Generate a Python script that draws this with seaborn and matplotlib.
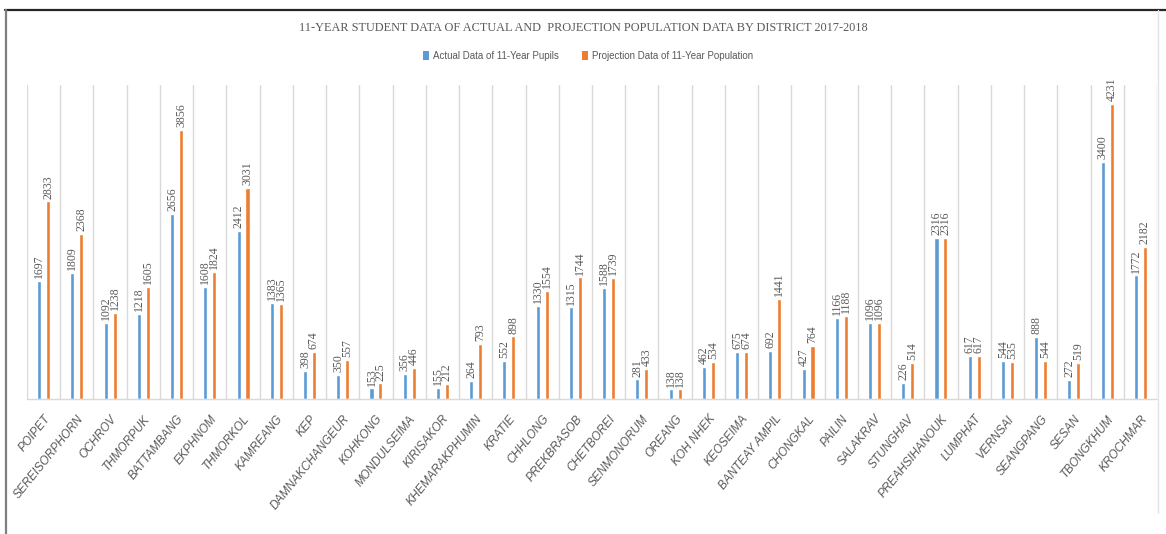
import numpy as np
import pandas as pd
import matplotlib
matplotlib.use("Agg")
import matplotlib.pyplot as plt
from matplotlib.lines import Line2D
from matplotlib.patches import Patch
import seaborn as sns

districts = [
    "POIPET", "SEREISORPHORN", "OCHROV", "THMORPUK", "BATTAMBANG", "EKPHNOM",
    "THMORKOL", "KAMREANG", "KEP", "DAMNAKCHANGEUR", "KOHKONG", "MONDULSEIMA",
    "KIRISAKOR", "KHEMARAKPHUMIN", "KRATIE", "CHHLONG", "PREKBRASOB", "CHETBOREI",
    "SENMONORUM", "OREANG", "KOH NHEK", "KEOSEIMA", "BANTEAY AMPIL", "CHONGKAL",
    "PAILIN", "SALAKRAV", "STUNGHAV", "PREAHSIHANOUK", "LUMPHAT", "VERNSAI",
    "SEANGPANG", "SESAN", "TBONGKHUM", "KROCHMAR",
]
actual_pupils = [
    1697, 1809, 1092, 1218, 2656, 1608, 2412, 1383, 398, 350, 153, 356,
    155, 264, 552, 1330, 1315, 1588, 281, 138, 462, 675, 692, 427,
    1166, 1096, 226, 2316, 617, 544, 888, 272, 3400, 1772,
]
projection_population = [
    2833, 2368, 1238, 1605, 3856, 1824, 3031, 1365, 674, 557, 225, 446,
    212, 793, 898, 1554, 1744, 1739, 433, 138, 534, 674, 1441, 764,
    1188, 1096, 514, 2316, 617, 535, 544, 519, 4231, 2182,
]
series_names = ["Actual Data of 11-Year Pupils", "Projection Data of 11-Year Population"]
title_text = "11-YEAR STUDENT DATA OF ACTUAL AND  PROJECTION POPULATION DATA BY DISTRICT 2017-2018"

BLUE = "#5B9BD5"
ORANGE = "#ED7D31"
TEXT_GREY = "#595959"
GRID_GREY = "#D9D9D9"

df = pd.DataFrame({
    "district": districts * 2,
    "value": actual_pupils + projection_population,
    "series": [series_names[0]] * len(districts) + [series_names[1]] * len(districts),
})

sns.set_style("white")
plt.rcParams["font.family"] = ["Liberation Sans", "DejaVu Sans"]

fig = plt.figure(figsize=(11.66, 5.34), dpi=100)
W, H = 1166, 534
ax = fig.add_axes([27 / W, 1 - 399 / H, (1157 - 27) / W, (399 - 85) / H])

sns.barplot(
    data=df, x="district", y="value", hue="series",
    order=districts, hue_order=series_names,
    palette=[BLUE, ORANGE], saturation=1,
    width=0.54, gap=0.55, errorbar=None, legend=False, ax=ax,
)

# value labels above each bar
for container, vals in zip(ax.containers, [actual_pupils, projection_population]):
    ax.bar_label(container, labels=[str(v) for v in vals], rotation=90,
                 padding=2, fontsize=8.5, color=TEXT_GREY,
                 family="Liberation Serif")

ax.set_xlim(-0.5, len(districts) - 0.5)
ax.set_ylim(0, 4503)
ax.set_xlabel("")
ax.set_ylabel("")
ax.set_yticks([])

# vertical separators between districts
ax.set_xticks(np.arange(-0.5, len(districts), 1.0), minor=True)
ax.grid(which="minor", axis="x", color=GRID_GREY, linewidth=1)
ax.grid(which="major", visible=False)
ax.tick_params(axis="x", which="both", length=0, pad=10)
ax.set_xticks(range(len(districts)))
ax.set_xticklabels(districts, rotation=51, ha="right", rotation_mode="anchor",
                   fontsize=8.5, style="italic", color=TEXT_GREY)

for side in ["top", "left", "right"]:
    ax.spines[side].set_visible(False)
ax.spines["bottom"].set_color(GRID_GREY)
ax.spines["bottom"].set_linewidth(1)

fig.text(0.5, 1 - 28 / H, title_text, ha="center", va="center",
         fontsize=8.8, color=TEXT_GREY, family="Liberation Serif")

handles = [Patch(facecolor=BLUE, edgecolor="none"),
           Patch(facecolor=ORANGE, edgecolor="none")]
fig.legend(handles, series_names, loc="center",
           bbox_to_anchor=(588 / W, 1 - 56 / H), bbox_transform=fig.transFigure,
           ncol=2, frameon=False, fontsize=7, handlelength=0.6,
           handleheight=1.0, handletextpad=0.4, columnspacing=2.4,
           labelcolor=TEXT_GREY)

# chart frame
fig.add_artist(Line2D([5 / W, 1], [1 - 9.5 / H, 1 - 9.5 / H],
                      transform=fig.transFigure, color="#262626", linewidth=1.6))
fig.add_artist(Line2D([5.5 / W, 5.5 / W], [0, 1 - 9.5 / H],
                      transform=fig.transFigure, color="#7F7F7F", linewidth=1.6))
fig.add_artist(Line2D([1158 / W, 1158 / W], [1 - 513 / H, 1 - 10 / H],
                      transform=fig.transFigure, color="#E3E3E3", linewidth=1))

fig.savefig("out.png", dpi=100)
